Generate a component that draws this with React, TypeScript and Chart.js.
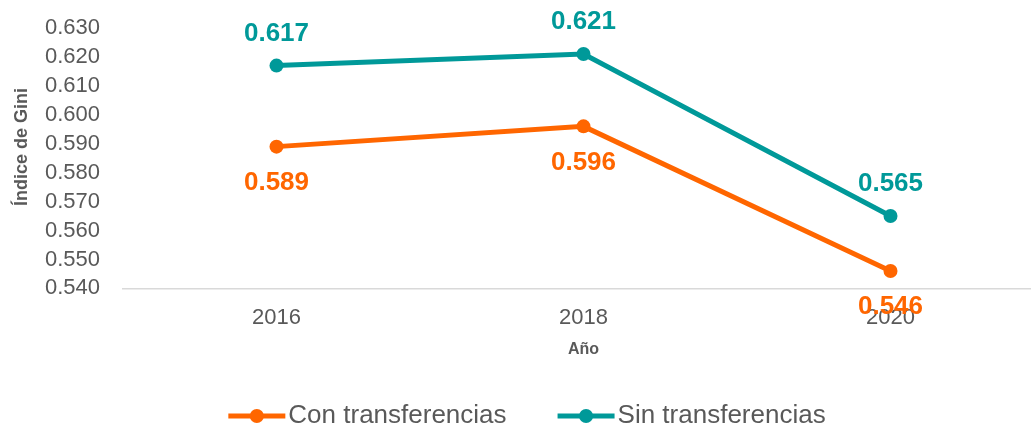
import React, { useEffect, useRef } from "react";
import { Chart, registerables } from "chart.js";

Chart.register(...registerables);

// ---- Data ----
const years = ["2016", "2018", "2020"];
const conTransferencias = [0.589, 0.596, 0.546];
const sinTransferencias = [0.617, 0.621, 0.565];
const seriesNames = ["Con transferencias", "Sin transferencias"];
const yTitle = "Índice de Gini";
const xTitle = "Año";
const yMin = 0.54;
const yMax = 0.63;
const yStep = 0.01;

// ---- Styles ----
const ORANGE = "#FF6600";
const TEAL = "#009999";
const GRAY = "#595959";
const FONT = "Arial, 'Liberation Sans', sans-serif";
const LEGEND_CENTER = 527;
const LEGEND_Y = 416;
const YTITLE_X = 22;
const YTITLE_Y = 147;

const dataLabelPlugin = {
  id: "dataLabels",
  afterDatasetsDraw(chart: any) {
    const ctx = chart.ctx;
    ctx.save();
    ctx.font = `bold 26px ${FONT}`;
    ctx.textAlign = "center";
    ctx.textBaseline = "middle";
    chart.data.datasets.forEach((ds: any, i: number) => {
      const meta = chart.getDatasetMeta(i);
      meta.data.forEach((pt: any, j: number) => {
        ctx.fillStyle = ds.borderColor;
        ctx.fillText(Number(ds.data[j]).toFixed(3), pt.x, pt.y + ds.labelOffset);
      });
    });
    ctx.restore();
  },
};

const yTitlePlugin = {
  id: "yTitle",
  afterDraw(chart: any) {
    const ctx = chart.ctx;
    ctx.save();
    ctx.translate(YTITLE_X, YTITLE_Y);
    ctx.rotate(-Math.PI / 2);
    ctx.font = `bold 18px ${FONT}`;
    ctx.fillStyle = GRAY;
    ctx.textAlign = "center";
    ctx.textBaseline = "middle";
    ctx.fillText(yTitle, 0, 0);
    ctx.restore();
  },
};

const legendPlugin = {
  id: "customLegend",
  afterDraw(chart: any) {
    const ctx = chart.ctx;
    ctx.save();
    ctx.font = `26px ${FONT}`;
    const markerW = 57;
    const gapText = 3;
    const gapItem = 51;
    const items = chart.data.datasets.map((ds: any) => ({
      text: ds.label,
      color: ds.borderColor,
      w: ctx.measureText(ds.label).width,
    }));
    const total =
      items.reduce((s: number, it: any) => s + markerW + gapText + it.w, 0) +
      gapItem * (items.length - 1);
    let x = LEGEND_CENTER - total / 2;
    const y = LEGEND_Y;
    items.forEach((it: any) => {
      ctx.strokeStyle = it.color;
      ctx.lineWidth = 5;
      ctx.beginPath();
      ctx.moveTo(x, y);
      ctx.lineTo(x + markerW, y);
      ctx.stroke();
      ctx.fillStyle = it.color;
      ctx.beginPath();
      ctx.arc(x + markerW / 2, y, 7, 0, Math.PI * 2);
      ctx.fill();
      ctx.fillStyle = GRAY;
      ctx.textAlign = "left";
      ctx.textBaseline = "middle";
      ctx.fillText(it.text, x + markerW + gapText, y);
      x += markerW + gapText + it.w + gapItem;
    });
    ctx.restore();
  },
};

export default function App() {
  const canvasRef = useRef<HTMLCanvasElement | null>(null);

  useEffect(() => {
    if (!canvasRef.current) return;
    const chart = new Chart(canvasRef.current, {
      type: "line",
      data: {
        labels: years,
        datasets: [
          {
            label: seriesNames[0],
            data: conTransferencias,
            borderColor: ORANGE,
            backgroundColor: ORANGE,
            pointBackgroundColor: ORANGE,
            borderWidth: 5,
            pointRadius: 7,
            pointBorderWidth: 0,
            tension: 0,
            labelOffset: 36,
          } as any,
          {
            label: seriesNames[1],
            data: sinTransferencias,
            borderColor: TEAL,
            backgroundColor: TEAL,
            pointBackgroundColor: TEAL,
            borderWidth: 5,
            pointRadius: 7,
            pointBorderWidth: 0,
            tension: 0,
            labelOffset: -32,
          } as any,
        ],
      },
      options: {
        animation: false,
        responsive: true,
        maintainAspectRatio: false,
        layout: { padding: { top: 28, right: 11, bottom: 70, left: 0 } },
        plugins: {
          legend: { display: false },
          tooltip: { enabled: false },
        },
        scales: {
          x: {
            type: "category",
            offset: true,
            z: 1,
            grid: { display: false, drawTicks: false },
            border: { display: true, color: "#D9D9D9", width: 1.5 },
            ticks: {
              color: GRAY,
              font: { family: FONT, size: 22 },
              padding: 16,
              maxRotation: 0,
            },
            title: {
              display: true,
              text: xTitle,
              color: GRAY,
              font: { family: FONT, size: 16, weight: "bold" },
              padding: { top: -7, bottom: 0 },
            },
          },
          y: {
            min: yMin,
            max: yMax,
            afterFit(scale: any) {
              scale.width = 123;
            },
            grid: { display: false, drawTicks: true, tickLength: 23 },
            border: { display: false },
            ticks: {
              stepSize: yStep,
              autoSkip: false,
              color: GRAY,
              font: { family: FONT, size: 22 },
              padding: 0,
              callback: (v: any) => Number(v).toFixed(3),
            },
            title: { display: false },
          },
        },
      } as any,
      plugins: [dataLabelPlugin, yTitlePlugin, legendPlugin],
    });
    return () => chart.destroy();
  }, []);

  return (
    <div
      style={{
        position: "fixed",
        left: 0,
        top: 0,
        width: 1031,
        height: 429,
        overflow: "hidden",
        background: "#ffffff",
      }}
    >
      <div style={{ position: "relative", width: 1055, height: 429 }}>
        <canvas ref={canvasRef} />
      </div>
    </div>
  );
}
